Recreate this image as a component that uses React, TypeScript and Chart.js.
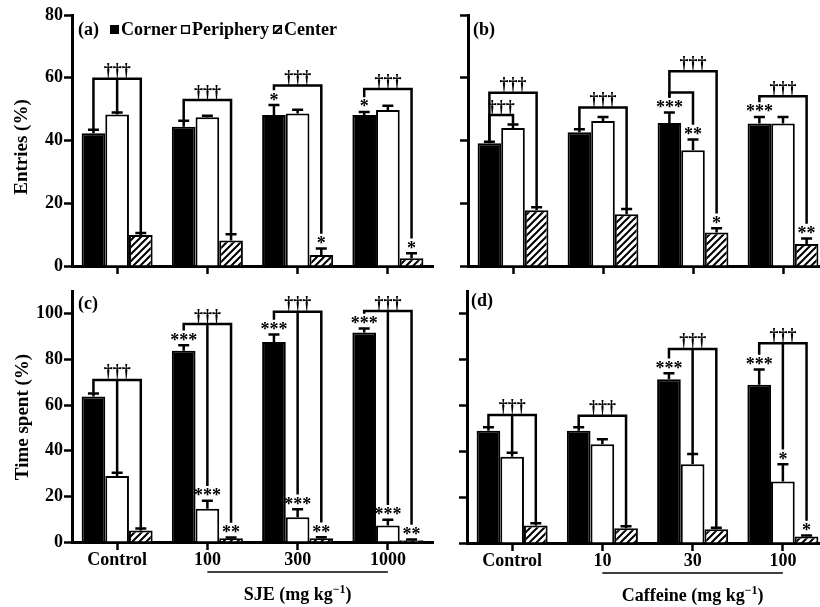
import { useEffect, useRef } from 'react';
import { Chart, registerables } from 'chart.js';

Chart.register(...registerables);

const FONT_FAMILY = "'Liberation Serif', 'Times New Roman', Times, serif";

// ---- categories / names ----
const sjeDoses = ['Control', '100', '300', '1000'];
const caffeineDoses = ['Control', '10', '30', '100'];
const zoneNames = ['Corner', 'Periphery', 'Center'];

// ---- (a) Entries (%), SJE ----
const aCorner = [42.3, 44.4, 48.1, 48.1];
const aCornerSem = [1.1, 1.9, 3.2, 1.0];
const aCornerSig = ['', '', '*', '*'];
const aPeriphery = [48.3, 47.4, 48.6, 49.7];
const aPeripherySem = [0.6, 0.5, 1.2, 1.4];
const aPeripherySig = ['', '', '', ''];
const aCenter = [9.9, 8.1, 3.5, 2.5];
const aCenterSem = [0.6, 2.0, 2.1, 1.6];
const aCenterSig = ['', '', '*', '*'];
const aBrackets = [
  { group: 0, at: 59.7, zones: [0, 1, 2], label: '†††' },
  { group: 1, at: 52.9, zones: [0, 2], label: '†††' },
  { group: 2, at: 57.5, zones: [0, 2], label: '†††' },
  { group: 3, at: 56.4, zones: [0, 2], label: '†††' },
];

// ---- (b) Entries (%), Caffeine ----
const bCorner = [39.1, 42.6, 45.6, 45.4];
const bCornerSem = [0.5, 1.0, 3.3, 2.1];
const bCornerSig = ['', '', '***', '***'];
const bPeriphery = [44.0, 46.2, 36.9, 45.4];
const bPeripherySem = [1.1, 1.3, 3.4, 2.1];
const bPeripherySig = ['', '', '**', ''];
const bCenter = [17.8, 16.5, 10.7, 7.0];
const bCenterSem = [0.9, 1.7, 1.3, 1.8];
const bCenterSig = ['', '', '*', '**'];
const bBrackets = [
  { group: 0, at: 55.2, zones: [0, 2], label: '†††' },
  { group: 0, at: 48.1, zones: [0, 1], label: '†††' },
  { group: 1, at: 50.5, zones: [0, 2], label: '†††' },
  { group: 2, at: 62.1, zones: [0, 2], label: '†††' },
  { group: 2, at: 55.3, zones: [0, 1], label: '' },
  { group: 3, at: 54.1, zones: [0, 2], label: '†††' },
];

// ---- (c) Time spent (%), SJE ----
const cCorner = [63.8, 83.8, 87.6, 91.8];
const cCornerSem = [1.3, 2.4, 3.3, 1.8];
const cCornerSig = ['', '***', '***', '***'];
const cPeriphery = [28.9, 14.6, 10.8, 7.2];
const cPeripherySem = [1.4, 3.5, 3.5, 2.6];
const cPeripherySig = ['', '***', '***', '***'];
const cCenter = [5.0, 1.6, 1.6, 0.8];
const cCenterSem = [0.9, 0.4, 0.5, 0.3];
const cCenterSig = ['', '**', '**', '**'];
const cBrackets = [
  { group: 0, at: 71.0, zones: [0, 1, 2], label: '†††' },
  { group: 1, at: 95.5, zones: [0, 1, 2], label: '†††' },
  { group: 2, at: 100.9, zones: [0, 1, 2], label: '†††' },
  { group: 3, at: 101.2, zones: [0, 1, 2], label: '†††' },
];

// ---- (d) Time spent (%), Caffeine ----
const dCorner = [49.0, 49.0, 71.5, 69.1];
const dCornerSem = [1.5, 1.5, 2.6, 6.6];
const dCornerSig = ['', '', '***', '***'];
const dPeriphery = [37.7, 43.1, 34.4, 26.8];
const dPeripherySem = [1.7, 2.2, 4.5, 7.6];
const dPeripherySig = ['', '', '', '*'];
const dCenter = [7.6, 6.4, 6.0, 2.8];
const dCenterSem = [1.0, 0.9, 0.7, 0.5];
const dCenterSig = ['', '', '', '*'];
const dBrackets = [
  { group: 0, at: 55.9, zones: [0, 1, 2], label: '†††' },
  { group: 1, at: 55.6, zones: [0, 2], label: '†††' },
  { group: 2, at: 84.7, zones: [0, 1, 2], label: '†††' },
  { group: 3, at: 87.2, zones: [0, 1, 2], label: '†††' },
];

const yTicksEntries = { max: 80, step: 20 };
const yTicksTime = { max: 110, step: 20 };

type Series = { values: number[]; sem: number[]; sig: string[] };
type Bracket = { group: number; at: number; zones: number[]; label: string };
type PanelCfg = {
  key: string;
  left: number; top: number; width: number; height: number;
  pad: { top: number; right: number };
  yWidth: number; xHeight: number;
  max: number; step: number;
  showY: boolean; showX: boolean;
  categories: string[];
  series: Series[];
  brackets: Bracket[];
  letter: string; letterPos: [number, number];
  yTitle?: string; yTitlePos?: [number, number];
  legendPos?: [number, number];
  groupLabel?: string;
};

const panels: PanelCfg[] = [
  {
    key: 'a', left: 0, top: 0, width: 440, height: 280,
    pad: { top: 15, right: 7 }, yWidth: 72, xHeight: 14,
    max: yTicksEntries.max, step: yTicksEntries.step, showY: true, showX: false,
    categories: sjeDoses,
    series: [
      { values: aCorner, sem: aCornerSem, sig: aCornerSig },
      { values: aPeriphery, sem: aPeripherySem, sig: aPeripherySig },
      { values: aCenter, sem: aCenterSem, sig: aCenterSig },
    ],
    brackets: aBrackets,
    letter: '(a)', letterPos: [78, 35],
    yTitle: 'Entries (%)', yTitlePos: [22, 147],
    legendPos: [110, 35],
  },
  {
    key: 'b', left: 440, top: 0, width: 400, height: 280,
    pad: { top: 15, right: 12 }, yWidth: 28, xHeight: 14,
    max: yTicksEntries.max, step: yTicksEntries.step, showY: false, showX: false,
    categories: caffeineDoses,
    series: [
      { values: bCorner, sem: bCornerSem, sig: bCornerSig },
      { values: bPeriphery, sem: bPeripherySem, sig: bPeripherySig },
      { values: bCenter, sem: bCenterSem, sig: bCenterSig },
    ],
    brackets: bBrackets,
    letter: '(b)', letterPos: [33, 35],
  },
  {
    key: 'c', left: 0, top: 275, width: 440, height: 332,
    pad: { top: 16, right: 7 }, yWidth: 72, xHeight: 65,
    max: yTicksTime.max, step: yTicksTime.step, showY: true, showX: true,
    categories: sjeDoses,
    series: [
      { values: cCorner, sem: cCornerSem, sig: cCornerSig },
      { values: cPeriphery, sem: cPeripherySem, sig: cPeripherySig },
      { values: cCenter, sem: cCenterSem, sig: cCenterSig },
    ],
    brackets: cBrackets,
    letter: '(c)', letterPos: [78, 34],
    yTitle: 'Time spent (%)', yTitlePos: [23, 142],
    groupLabel: 'SJE (mg kg',
  },
  {
    key: 'd', left: 440, top: 275, width: 400, height: 332,
    pad: { top: 16, right: 12 }, yWidth: 27, xHeight: 64,
    max: yTicksTime.max, step: yTicksTime.step, showY: false, showX: true,
    categories: caffeineDoses,
    series: [
      { values: dCorner, sem: dCornerSem, sig: dCornerSig },
      { values: dPeriphery, sem: dPeripherySem, sig: dPeripherySig },
      { values: dCenter, sem: dCenterSem, sig: dCenterSig },
    ],
    brackets: dBrackets,
    letter: '(d)', letterPos: [31, 31],
    groupLabel: 'Caffeine (mg kg',
  },
];

function makeHatch(): CanvasPattern | string {
  const c = document.createElement('canvas');
  c.width = 7;
  c.height = 7;
  const g = c.getContext('2d');
  if (!g) return '#888';
  g.fillStyle = '#fff';
  g.fillRect(0, 0, 7, 7);
  g.strokeStyle = '#000';
  g.lineWidth = 2;
  g.beginPath();
  g.moveTo(-1, 8); g.lineTo(8, -1);
  g.moveTo(-1, 1); g.lineTo(1, -1);
  g.moveTo(6, 8); g.lineTo(8, 6);
  g.stroke();
  return g.createPattern(c, 'repeat') || '#888';
}

const font = (size: number) => `bold ${size}px ${FONT_FAMILY}`;

function annotationPlugin(cfg: PanelCfg, fills: (string | CanvasPattern)[]) {
  return {
    id: 'annot_' + cfg.key,
    afterDatasetsDraw(chart: any) {
      const ctx: CanvasRenderingContext2D = chart.ctx;
      const yS = chart.scales.y;
      const barX = (si: number, gi: number) => chart.getDatasetMeta(si).data[gi].x;
      const capPx = (si: number, gi: number) =>
        yS.getPixelForValue(cfg.series[si].values[gi] + cfg.series[si].sem[gi]);
      ctx.save();
      ctx.strokeStyle = '#000';
      ctx.fillStyle = '#000';
      ctx.lineWidth = 2.5;
      ctx.font = font(18);
      ctx.textAlign = 'center';
      ctx.textBaseline = 'alphabetic';
      cfg.series.forEach((s, si) => {
        s.values.forEach((v, gi) => {
          const x = barX(si, gi);
          const top = yS.getPixelForValue(v);
          const cap = capPx(si, gi);
          ctx.beginPath();
          ctx.moveTo(x, top);
          ctx.lineTo(x, cap);
          ctx.moveTo(x - 5.5, cap);
          ctx.lineTo(x + 5.5, cap);
          ctx.stroke();
          if (s.sig[gi]) ctx.fillText(s.sig[gi], x, cap + 0.5);
        });
      });
      cfg.brackets.forEach((b) => {
        const by = yS.getPixelForValue(b.at);
        const xs = b.zones.map((z) => barX(z, b.group));
        const x0 = Math.min(...xs);
        const x1 = Math.max(...xs);
        ctx.lineCap = 'square';
        ctx.beginPath();
        ctx.moveTo(x0, by);
        ctx.lineTo(x1, by);
        b.zones.forEach((z, k) => {
          const cap = capPx(z, b.group);
          const end = cfg.series[z].sig[b.group] ? cap - 16 : cap - 2;
          ctx.moveTo(xs[k], by);
          ctx.lineTo(xs[k], end);
        });
        ctx.stroke();
        ctx.lineCap = 'butt';
        if (b.label) ctx.fillText(b.label, (x0 + x1) / 2, by - 2.5);
      });
      ctx.restore();
    },
    afterDraw(chart: any) {
      const ctx: CanvasRenderingContext2D = chart.ctx;
      ctx.save();
      ctx.fillStyle = '#000';
      ctx.strokeStyle = '#000';
      ctx.font = font(18);
      ctx.textBaseline = 'alphabetic';
      ctx.textAlign = 'left';
      ctx.fillText(cfg.letter, cfg.letterPos[0], cfg.letterPos[1]);
      if (cfg.legendPos) {
        let x = cfg.legendPos[0];
        const by = cfg.legendPos[1];
        fills.forEach((f, i) => {
          ctx.fillStyle = f as any;
          ctx.fillRect(x, by - 10, 9, 9);
          ctx.lineWidth = 1.5;
          ctx.strokeStyle = '#000';
          ctx.strokeRect(x + 0.75, by - 9.25, 7.5, 7.5);
          x += 11;
          ctx.fillStyle = '#000';
          ctx.fillText(zoneNames[i], x, by);
          x += ctx.measureText(zoneNames[i]).width + 4;
        });
      }
      if (cfg.yTitle && cfg.yTitlePos) {
        ctx.save();
        ctx.translate(cfg.yTitlePos[0], cfg.yTitlePos[1]);
        ctx.rotate(-Math.PI / 2);
        ctx.font = font(19);
        ctx.textAlign = 'center';
        ctx.textBaseline = 'middle';
        ctx.fillText(cfg.yTitle, 0, 0);
        ctx.restore();
      }
      if (cfg.groupLabel) {
        const xS = chart.scales.x;
        const gx0 = xS.getPixelForValue(1);
        const gx1 = xS.getPixelForValue(3);
        const ly = chart.chartArea.bottom + 30;
        ctx.lineWidth = 1.5;
        ctx.beginPath();
        ctx.moveTo(gx0, ly);
        ctx.lineTo(gx1, ly);
        ctx.stroke();
        const main = cfg.groupLabel;
        const sup = '\u22121';
        const close = ')';
        ctx.font = font(18);
        const w1 = ctx.measureText(main).width;
        const w3 = ctx.measureText(close).width;
        ctx.font = font(12);
        const w2 = ctx.measureText(sup).width;
        const cx = (gx0 + gx1) / 2;
        const ty = chart.chartArea.bottom + 58;
        let x = cx - (w1 + w2 + w3) / 2;
        ctx.textAlign = 'left';
        ctx.font = font(18);
        ctx.fillText(main, x, ty);
        x += w1;
        ctx.font = font(12);
        ctx.fillText(sup, x, ty - 7);
        x += w2;
        ctx.font = font(18);
        ctx.fillText(close, x, ty);
      }
      ctx.restore();
    },
  };
}

function PanelChart({ cfg }: { cfg: PanelCfg }) {
  const ref = useRef<HTMLCanvasElement>(null);
  useEffect(() => {
    const canvas = ref.current;
    if (!canvas) return;
    const hatch = makeHatch();
    const fills: (string | CanvasPattern)[] = ['#000000', '#ffffff', hatch];
    const datasets = cfg.series.map((s, i) => ({
      label: zoneNames[i],
      data: s.values,
      backgroundColor: fills[i] as any,
      borderColor: '#000',
      borderWidth: 2,
      borderSkipped: 'start' as const,
      categoryPercentage: 0.787,
      barPercentage: 1,
    }));
    const chart = new Chart(canvas, {
      type: 'bar',
      data: { labels: cfg.categories, datasets },
      options: {
        responsive: false,
        animation: false,
        devicePixelRatio: 1,
        layout: { padding: { left: 0, right: cfg.pad.right, top: cfg.pad.top, bottom: 0 } },
        plugins: { legend: { display: false }, tooltip: { enabled: false }, title: { display: false } },
        scales: {
          x: {
            type: 'category',
            offset: true,
            z: 1,
            grid: {
              display: true, offset: false, drawOnChartArea: false, drawTicks: true,
              tickLength: 8, tickColor: '#000', tickWidth: 2.5, color: '#000',
            },
            border: { display: true, color: '#000', width: 3 },
            ticks: {
              display: cfg.showX, color: '#000', font: { family: FONT_FAMILY, size: 18, weight: 'bold' },
              padding: 0, maxRotation: 0, autoSkip: false,
            },
            afterFit: (s: any) => { s.height = cfg.xHeight; },
          },
          y: {
            type: 'linear',
            min: 0,
            max: cfg.max,
            z: 1,
            grid: {
              display: true, drawOnChartArea: false, drawTicks: true,
              tickLength: 8, tickColor: '#000', tickWidth: 2.5, color: '#000',
            },
            border: { display: true, color: '#000', width: 3 },
            ticks: {
              stepSize: cfg.step,
              includeBounds: false,
              color: '#000',
              padding: 1,
              font: { family: FONT_FAMILY, size: 18, weight: 'bold' },
              callback: (v: any) => (cfg.showY ? String(v) : ''),
            },
            afterFit: (s: any) => { s.width = cfg.yWidth; },
          },
        },
      } as any,
      plugins: [annotationPlugin(cfg, fills)],
    });
    return () => chart.destroy();
  }, [cfg]);
  return (
    <canvas
      ref={ref}
      width={cfg.width}
      height={cfg.height}
      style={{ position: 'absolute', left: cfg.left, top: cfg.top, width: cfg.width, height: cfg.height, display: 'block' }}
    />
  );
}

export default function App() {
  return (
    <div
      style={{
        position: 'fixed', left: 0, top: 0, width: 820, height: 607,
        overflow: 'hidden', background: '#fff',
      }}
    >
      {panels.map((p) => (
        <PanelChart key={p.key} cfg={p} />
      ))}
    </div>
  );
}
